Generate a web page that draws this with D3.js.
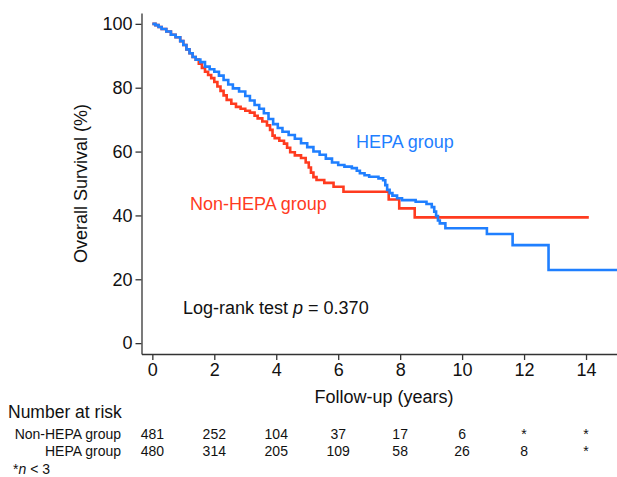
<!DOCTYPE html>
<html>
<head>
<meta charset="utf-8">
<script src="https://cdn.jsdelivr.net/npm/d3@7"></script>
<style>
  html, body { margin: 0; padding: 0; background: #fff; }
  svg { display: block; font-family: "Liberation Sans", Arial, Helvetica, sans-serif; }
</style>
</head>
<body>
<svg id="chart" width="617" height="477"></svg>
<script>
// ---- data ----
const xTicks = [0, 2, 4, 6, 8, 10, 12, 14];
const yTicks = [0, 20, 40, 60, 80, 100];

// Non-HEPA group Kaplan-Meier steps (time in years, survival %)
const nonHepaTime = [0, 0.1, 0.2, 0.3, 0.45, 0.6, 0.75, 0.9, 1.0, 1.1, 1.2, 1.3, 1.4,
  1.5, 1.6, 1.7, 1.8, 1.9, 2.0, 2.1, 2.2, 2.3, 2.4, 2.55, 2.7, 2.85, 3.0, 3.15, 3.3, 3.4,
  3.55, 3.7, 3.8, 3.88, 3.95, 4.1, 4.25, 4.35, 4.45, 4.6, 4.8, 4.95, 5.05, 5.12, 5.2, 5.3,
  5.55, 5.85, 6.17, 7.63, 7.97, 8.47, 14.09];
const nonHepaSurv = [100, 99.6, 99.0, 98.4, 97.6, 96.6, 95.8, 94.6, 93.4, 92.0, 90.8, 89.6, 88.8,
  87.5, 86.2, 85.0, 84.0, 83.0, 81.8, 80.4, 79.0, 77.6, 76.2, 75.0, 74.0, 73.4, 72.8, 72.2, 71.2, 70.4,
  69.4, 68.2, 66.8, 65.0, 64.2, 63.4, 62.5, 61.2, 59.8, 58.8, 58.0, 56.6, 55.0, 53.4, 52.0, 51.1,
  50.2, 49.0, 47.4, 45.0, 42.2, 39.4, 39.4];

// HEPA group Kaplan-Meier steps
const hepaTime = [0, 0.1, 0.2, 0.3, 0.45, 0.6, 0.75, 0.9, 1.0, 1.1, 1.2, 1.3, 1.4,
  1.55, 1.7, 1.85, 2.0, 2.15, 2.3, 2.45, 2.6, 2.8, 3.0, 3.15, 3.3, 3.45, 3.6, 3.75, 3.9,
  4.05, 4.2, 4.4, 4.6, 4.8, 5.0, 5.2, 5.4, 5.6, 5.8, 6.0, 6.2, 6.44, 6.6, 6.7, 6.85, 7.0,
  7.3, 7.45, 7.52, 7.58, 7.66, 7.75, 7.9, 8.06, 8.5, 8.85, 9.02, 9.1, 9.16, 9.22, 9.28,
  9.46, 10.8, 11.63, 12.79, 15];
const hepaSurv = [100, 99.6, 99.0, 98.4, 97.6, 96.6, 95.8, 94.6, 93.4, 92.0, 90.8, 89.6, 88.8,
  88.0, 86.6, 85.8, 85.0, 83.8, 82.4, 81.0, 79.8, 78.8, 77.4, 76.0, 74.6, 73.4, 72.0, 70.2, 68.6,
  67.4, 66.2, 65.2, 64.0, 62.6, 61.4, 60.0, 59.0, 57.8, 56.6, 55.8, 55.3, 54.8, 54.0, 53.2, 52.6, 52.1,
  51.6, 51.0, 49.5, 48.0, 47.0, 46.2, 45.4, 44.8, 44.3, 43.6, 42.6, 41.2, 39.8, 38.4, 37.5,
  36.0, 34.2, 30.7, 22.9, 22.9];

// Number at risk table
const riskGroups = ["Non-HEPA group", "HEPA group"];
const riskNonHepa = ["481", "252", "104", "37", "17", "6", "*", "*"];
const riskHepa = ["480", "314", "205", "109", "58", "26", "8", "*"];

const colNonHepa = "#ff3b1f";
const colHepa = "#1f7fff";

// ---- drawing ----
const svg = d3.select("#chart");
const x = d3.scaleLinear().domain([-0.35, 15]).range([141.5, 617]);
const y = d3.scaleLinear().domain([-3.4, 103.4]).range([354, 13]);

const axisColor = "#333";
const fs = 18;

// Y axis
const gy = svg.append("g").attr("transform", `translate(${x(-0.35)},0)`)
  .call(d3.axisLeft(y).tickValues(yTicks).tickSize(6).tickSizeOuter(0).tickPadding(3));
gy.select(".domain").attr("stroke", axisColor).attr("stroke-width", 1.3);
gy.selectAll(".tick line").attr("stroke", axisColor).attr("stroke-width", 1.3);
gy.selectAll(".tick text").attr("font-size", fs).attr("fill", "#111")
  .attr("font-family", '"Liberation Sans", Arial, sans-serif');

// X axis
const gx = svg.append("g").attr("transform", `translate(0,${y(-3.4)})`)
  .call(d3.axisBottom(x).tickValues(xTicks).tickSize(6).tickSizeOuter(0).tickPadding(3));
gx.select(".domain").attr("stroke", axisColor).attr("stroke-width", 1.3);
gx.selectAll(".tick line").attr("stroke", axisColor).attr("stroke-width", 1.3);
gx.selectAll(".tick text").attr("font-size", fs).attr("fill", "#111")
  .attr("font-family", '"Liberation Sans", Arial, sans-serif');

// Axis titles
svg.append("text")
  .attr("transform", `translate(87,${(y(100) + y(0)) / 2}) rotate(-90)`)
  .attr("text-anchor", "middle").attr("font-size", 18).attr("fill", "#111")
  .text("Overall Survival (%)");

svg.append("text")
  .attr("x", 384).attr("y", 403)
  .attr("text-anchor", "middle").attr("font-size", fs).attr("fill", "#111")
  .text("Follow-up (years)");

// Curves
const line = d3.line().x(d => x(d[0])).y(d => y(d[1])).curve(d3.curveStepAfter);
const nonHepaData = nonHepaTime.map((t, i) => [t, nonHepaSurv[i]]);
const hepaData = hepaTime.map((t, i) => [t, hepaSurv[i]]);

svg.append("path").datum(nonHepaData)
  .attr("d", line).attr("fill", "none").attr("stroke", colNonHepa)
  .attr("stroke-width", 2.6).attr("stroke-linejoin", "miter");
svg.append("path").datum(hepaData)
  .attr("d", line).attr("fill", "none").attr("stroke", colHepa)
  .attr("stroke-width", 2.6).attr("stroke-linejoin", "miter");

// Labels
svg.append("text").attr("x", 356).attr("y", 148)
  .attr("font-size", fs).attr("fill", colHepa).text("HEPA group");
svg.append("text").attr("x", 190).attr("y", 210)
  .attr("font-size", fs).attr("fill", colNonHepa).text("Non-HEPA group");

const lr = svg.append("text").attr("x", 183).attr("y", 314)
  .attr("font-size", fs).attr("fill", "#111");
lr.append("tspan").text("Log-rank test ");
lr.append("tspan").attr("font-style", "italic").text("p");
lr.append("tspan").text(" = 0.370");

// Number at risk table
svg.append("text").attr("x", 8).attr("y", 418)
  .attr("font-size", 17.5).attr("fill", "#111").text("Number at risk");

const rows = [riskNonHepa, riskHepa];
const rowY = [439, 456];
rows.forEach((vals, r) => {
  svg.append("text").attr("x", 121).attr("y", rowY[r])
    .attr("text-anchor", "end").attr("font-size", 14).attr("fill", "#111")
    .text(riskGroups[r]);
  svg.selectAll(null).data(vals).enter().append("text")
    .attr("x", (d, i) => x(xTicks[i]))
    .attr("y", rowY[r])
    .attr("text-anchor", "middle").attr("font-size", 14).attr("fill", "#111")
    .text(d => d);
});

const foot = svg.append("text").attr("x", 13).attr("y", 474)
  .attr("font-size", 14).attr("fill", "#111");
foot.append("tspan").text("*");
foot.append("tspan").attr("font-style", "italic").text("n");
foot.append("tspan").text(" < 3");
</script>
</body>
</html>
